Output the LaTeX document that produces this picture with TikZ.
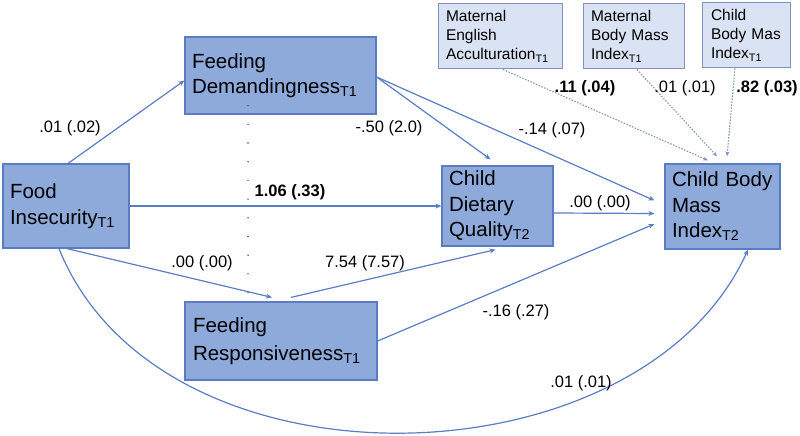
\documentclass[tikz,border=0pt]{standalone}
\usepackage{fontspec}
\setmainfont{Liberation Sans}
\usetikzlibrary{arrows.meta}
\definecolor{boxfill}{HTML}{8EAADB}
\definecolor{boxline}{HTML}{5B7CC0}
\definecolor{covfill}{HTML}{DAE3F3}
\definecolor{covline}{HTML}{7F93BD}
\definecolor{pathcol}{HTML}{5A7DC4}
\newcommand{\Tsub}[1]{\textsubscript{T#1}}
\begin{document}
\begin{tikzpicture}[x=1pt,y=-1pt,
  varbox/.style={draw=boxline,line width=1.2pt,fill=boxfill,align=left,inner sep=0pt,
    font=\fontsize{20.5}{25.5}\selectfont},
  covbox/.style={draw=covline,line width=1pt,fill=covfill,align=left,inner sep=0pt,
    font=\fontsize{15.5}{19}\selectfont},
  coef/.style={font=\fontsize{16.5}{19}\selectfont,inner sep=1pt},
  link/.style={draw=pathcol,line width=1.2pt,-{Stealth[length=6pt,width=5pt]}},
  covlink/.style={draw=covline,line width=1.1pt,dash pattern=on 1.5pt off 1.5pt,-{Stealth[length=5pt,width=4pt]}}]
\useasboundingbox (0,0) rectangle (800,436);
% main variables
\node[varbox,minimum width=126pt,minimum height=84pt,text width=112pt] (food) at (66,206) {Food\\Insecurity\Tsub{1}};
\node[varbox,minimum width=191pt,minimum height=77pt,text width=177pt] (demand) at (280.5,75.5) {Feeding\\Demandingness\Tsub{1}};
\node[varbox,minimum width=192pt,minimum height=78pt,text width=176pt] (resp) at (281,341) {Feeding\\[2pt]Responsiveness\Tsub{1}};
\node[varbox,minimum width=111pt,minimum height=80pt,text width=97pt] (diet) at (497.5,206) {Child\\Dietary\\Quality\Tsub{2}};
\node[varbox,minimum width=115pt,minimum height=85pt,text width=101pt] (bmi) at (722.5,206.5) {Child~Body\\Mass\\Index\Tsub{2}};
% covariates
\node[covbox,minimum width=124pt,minimum height=65pt,text width=108pt] (accult) at (500,36.5) {Maternal\\English\\Acculturation\Tsub{1}};
\node[covbox,minimum width=101pt,minimum height=65pt,text width=85pt] (mombmi) at (633.5,36.5) {Maternal\\Body~Mass\\Index\Tsub{1}};
\node[covbox,minimum width=88pt,minimum height=65pt,text width=70pt] (kidbmi) at (746,35.5) {Child\\Body~Mas\\Index\Tsub{1}};
% paths
\draw[link] ([xshift=2pt]food.north) -- ([yshift=-5pt]demand.west);
\draw[link,line width=2pt] (food.east) -- (diet.west);
\draw[link] ([xshift=1pt]food.south) -- ([xshift=-9pt,yshift=4pt]resp.north);
\draw[link] ([xshift=10pt,yshift=4pt]resp.north) -- ([xshift=-2pt,yshift=-3pt]diet.south);
\draw[link] (resp.east) -- ([xshift=-10pt,yshift=-17.5pt]bmi.west);
\draw[link] ([yshift=-1.5pt]demand.east) -- ([xshift=-7pt,yshift=6pt]diet.north);
\draw[link] ([yshift=-1.5pt]demand.east) -- ([xshift=-10pt,yshift=6pt]bmi.west);
\draw[link] ([yshift=-7pt]diet.east) -- ([xshift=-10pt,yshift=-7pt]bmi.west);
\draw[link] ([xshift=-7pt]food.south) .. controls (160,500) and (640,488) .. ([xshift=25.5pt]bmi.south);
\draw[pathcol!60!black,line width=1.6pt,line cap=round,dash pattern=on 0pt off 18.7pt]
  ([xshift=-32.5pt,yshift=9pt]demand.south) -- ([xshift=-33pt,yshift=8pt]resp.north);
\draw[covlink] ([xshift=3pt]accult.south) -- ([xshift=-14.5pt,yshift=3pt]bmi.north);
\draw[covlink] ([xshift=3.5pt]mombmi.south) -- ([xshift=-5.5pt,yshift=7pt]bmi.north);
\draw[covlink] ([xshift=-11pt]kidbmi.south) -- ([xshift=4.5pt,yshift=7pt]bmi.north);
% coefficients
\node[coef] (c1) at (70,128) {.01 (.02)};
\node[coef] (c2) at (389,128) {-.50 (2.0)};
\node[coef] (c3) at (552,130) {-.14 (.07)};
\node[coef] (c4) at (290,192) {\textbf{1.06 (.33)}};
\node[coef] (c5) at (600,203) {.00 (.00)};
\node[coef] (c6) at (585,88) {\textbf{.11 (.04)}};
\node[coef] (c7) at (685,88) {.01 (.01)};
\node[coef] (c8) at (767,88) {\textbf{.82 (.03)}};
\node[coef] (c9) at (202,263) {.00 (.00)};
\node[coef] (c10) at (365,263) {7.54 (7.57)};
\node[coef] (c11) at (516,312) {-.16 (.27)};
\node[coef] (c12) at (581,383) {.01 (.01)};
\end{tikzpicture}
\end{document}
